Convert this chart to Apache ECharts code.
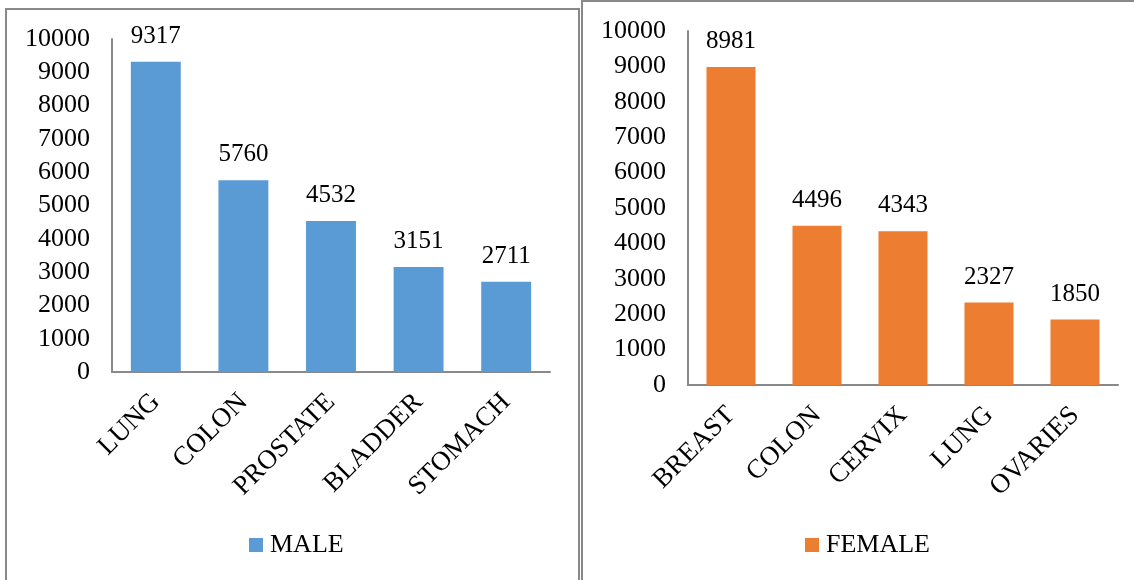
<!DOCTYPE html>
<html>
<head>
<meta charset="utf-8">
<script src="https://cdn.jsdelivr.net/npm/echarts@6/dist/echarts.min.js"></script>
<style>
  html, body { margin: 0; padding: 0; background: #fff; overflow: hidden; }
  #wrap { position: relative; width: 1134px; height: 580px; }
  .frame { position: absolute; border: 2px solid #898989; box-sizing: border-box; }
  #frameL { left: 5px; top: 8px; width: 575px; height: 600px; }
  #frameR { left: 581px; top: 0px; width: 600px; height: 600px; }
  #chart { position: absolute; left: 0; top: 0; width: 1134px; height: 580px; }
</style>
</head>
<body>
<div id="wrap">
  <div class="frame" id="frameL"></div>
  <div class="frame" id="frameR"></div>
  <div id="chart"></div>
</div>
<script>
// Cancer cases by site, split by sex
const maleSites = ['LUNG', 'COLON', 'PROSTATE', 'BLADDER', 'STOMACH'];
const maleCases = [9317, 5760, 4532, 3151, 2711];
const femaleSites = ['BREAST', 'COLON', 'CERVIX', 'LUNG', 'OVARIES'];
const femaleCases = [8981, 4496, 4343, 2327, 1850];
const yTicks = { min: 0, max: 10000, interval: 1000 };

const FONT = '"Liberation Serif", "Times New Roman", serif';
const AXIS_GREY = '#898989';
const BLUE = '#5B9BD5';
const ORANGE = '#ED7D31';

function yAxisFor(gridIndex) {
  return {
    type: 'value', gridIndex: gridIndex,
    min: yTicks.min, max: yTicks.max, interval: yTicks.interval,
    axisLine: { show: true, lineStyle: { color: AXIS_GREY, width: 2 } },
    axisTick: { show: false },
    splitLine: { show: false },
    axisLabel: { color: '#000', fontFamily: FONT, fontSize: 26, margin: 22,
      formatter: function (v) { return String(v); } }
  };
}
function xAxisFor(gridIndex, cats) {
  return {
    type: 'category', gridIndex: gridIndex, data: cats,
    axisLine: { show: true, lineStyle: { color: AXIS_GREY, width: 2 } },
    axisTick: { show: false },
    axisLabel: { color: '#000', fontFamily: FONT, fontSize: 27, rotate: 45, margin: 26, interval: 0 }
  };
}
function barSeries(name, idx, values, color) {
  return {
    name: name, type: 'bar', xAxisIndex: idx, yAxisIndex: idx,
    data: values, barCategoryGap: '43%',
    itemStyle: { color: color },
    label: { show: true, position: 'top', distance: 13, color: '#000', fontFamily: FONT, fontSize: 25 }
  };
}
function legendFor(name, left) {
  return {
    data: [name], left: left, top: 532, padding: 0, icon: 'rect',
    itemWidth: 14, itemHeight: 14, itemGap: 6,
    textStyle: { fontFamily: FONT, fontSize: 26, color: '#000', padding: [0, 0, 0, 2] }
  };
}

const chart = echarts.init(document.getElementById('chart'), null, { renderer: 'canvas' });
chart.setOption({
  animation: false,
  backgroundColor: 'transparent',
  textStyle: { fontFamily: FONT },
  grid: [
    { left: 112, top: 39, width: 438, height: 333 },
    { left: 688, top: 31, width: 430, height: 354 }
  ],
  xAxis: [xAxisFor(0, maleSites), xAxisFor(1, femaleSites)],
  yAxis: [yAxisFor(0), yAxisFor(1)],
  legend: [legendFor('MALE', 249), legendFor('FEMALE', 805)],
  series: [
    barSeries('MALE', 0, maleCases, BLUE),
    barSeries('FEMALE', 1, femaleCases, ORANGE)
  ]
});
</script>
</body>
</html>
